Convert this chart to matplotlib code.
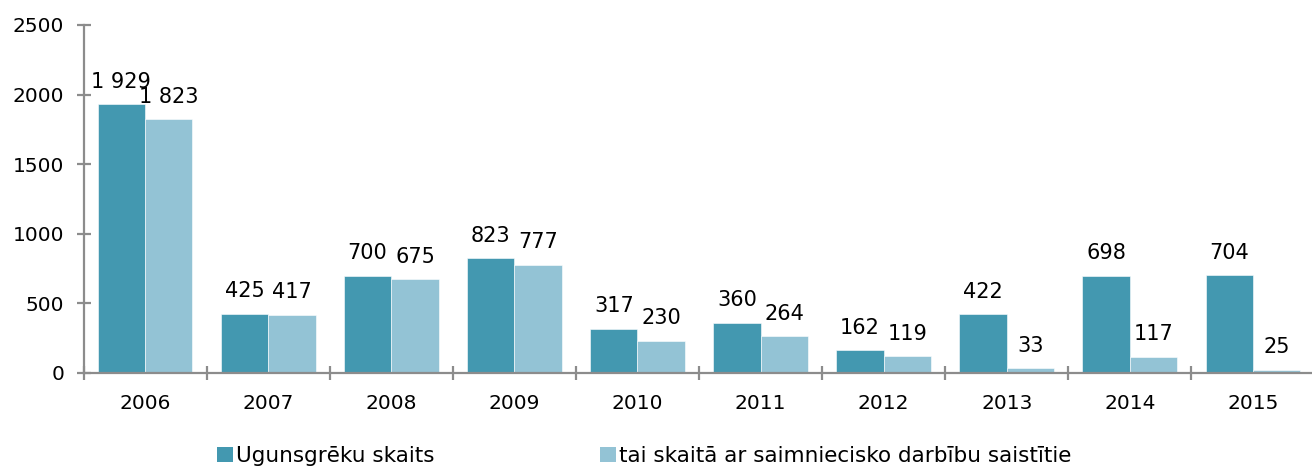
import matplotlib
matplotlib.use("Agg")
import matplotlib.pyplot as plt
import numpy as np
from matplotlib.patches import Patch

years = ["2006", "2007", "2008", "2009", "2010", "2011", "2012", "2013", "2014", "2015"]
fires = [1929, 425, 700, 823, 317, 360, 162, 422, 698, 704]
business = [1823, 417, 675, 777, 230, 264, 119, 33, 117, 25]
labels_fires = ["1 929", "425", "700", "823", "317", "360", "162", "422", "698", "704"]
labels_business = ["1 823", "417", "675", "777", "230", "264", "119", "33", "117", "25"]
series_names = ["Ugunsgrēku skaits", "tai skaitā ar saimniecisko darbību saistītie"]

dark = "#4398b0"
light = "#93c3d5"
axcol = "#8c8c8c"

fig = plt.figure(figsize=(13.12, 4.68), dpi=100)
ax = fig.add_axes([83.5/1312, 1-373/468, (1314.5-83.5)/1312, (373-25)/468])

x = np.arange(len(years))
w = 0.385
b1 = ax.bar(x - w/2, fires, w, color=dark, edgecolor="white", linewidth=0.4)
b2 = ax.bar(x + w/2, business, w, color=light, edgecolor="white", linewidth=0.4)

# value labels above each bar
for bars, labs in [(b1, labels_fires), (b2, labels_business)]:
  for rect, lab in zip(bars, labs):
    ax.annotate(lab, (rect.get_x() + rect.get_width()/2, rect.get_height()),
                xytext=(0, 9), textcoords="offset points", ha="center", va="bottom",
                fontsize=15)

ax.set_xlim(-0.5, len(years) - 0.5)
ax.set_ylim(0, 2500)
ax.set_yticks(np.arange(0, 2501, 500))
# ticks between categories, labels in the middle
ax.set_xticks(np.arange(-0.5, len(years), 1.0))
ax.set_xticklabels([])
ax.set_xticks(x, minor=True)
ax.set_xticklabels(years, minor=True)

for s in ["top", "right"]:
  ax.spines[s].set_visible(False)
for s in ["left", "bottom"]:
  ax.spines[s].set_color(axcol)
  ax.spines[s].set_linewidth(1.6)

ax.tick_params(axis="y", which="major", direction="inout", length=10, width=1.6,
               color=axcol, labelsize=14.5, pad=9)
ax.tick_params(axis="x", which="major", direction="inout", length=10, width=1.6,
               color=axcol)
ax.tick_params(axis="x", which="minor", length=0, labelsize=14.5, pad=15)

legprop = {"family": "DejaVu Sans", "size": 15.5}
for col, name, xpos in [(dark, series_names[0], 217), (light, series_names[1], 600)]:
  fig.legend([Patch(facecolor=col, edgecolor="none")], [name], loc="center left",
             bbox_to_anchor=(xpos/1312, 1-456/468), frameon=False, handlelength=0.75,
             handleheight=0.75, handletextpad=0.15, borderpad=0, borderaxespad=0,
             prop=legprop)

fig.savefig("out.png", dpi=100)
